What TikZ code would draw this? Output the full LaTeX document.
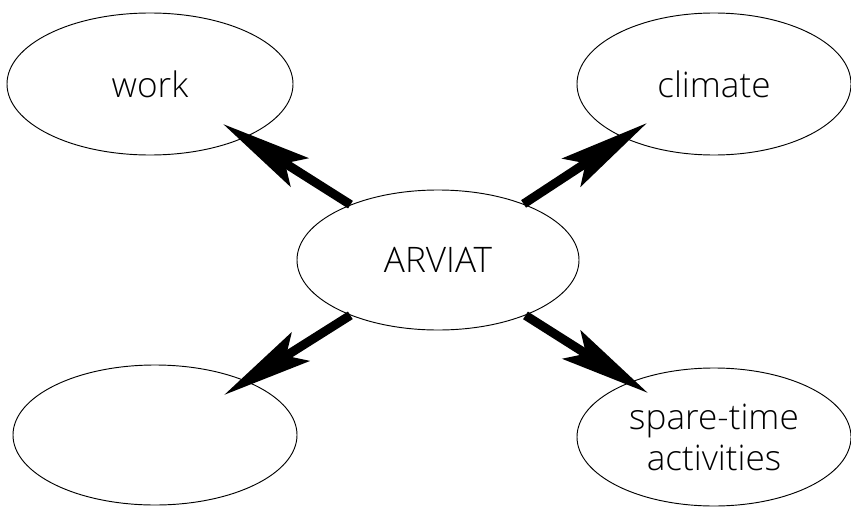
\documentclass[tikz,border=0pt]{standalone}
\usepackage{fontspec}
\setmainfont{Open Sans}[UprightFont=* Light]
\usetikzlibrary{shapes.geometric,arrows.meta}
\begin{document}
\begin{tikzpicture}[x=0.03cm,y=-0.03cm,
    bubble/.style={draw,ellipse,line width=0.8pt,inner sep=0pt,align=center,
                   font=\fontsize{30}{35}\selectfont},
    bigarrow/.style={line width=0.27cm,-{Stealth[length=2.7cm,width=1.0cm,inset=0.5cm]}}]
\useasboundingbox (0,0) rectangle (851,506);
\node[bubble,minimum width=8.58cm,minimum height=4.26cm] (work) at (150,84) {work};
\node[bubble,minimum width=8.22cm,minimum height=4.26cm] (climate) at (714,84) {climate};
\node[bubble,minimum width=8.46cm,minimum height=4.2cm] (arviat) at (438,260) {ARVIAT};
\node[bubble,minimum width=8.52cm,minimum height=4.2cm] (blank) at (155,435) {};
\node[bubble,minimum width=8.22cm,minimum height=4.14cm] (spare) at (714,437) {spare-time\\activities};
% arrow tips reach into the outer ellipses
\coordinate (worktip) at (223,124);
\coordinate (climatetip) at (647,123);
\coordinate (blanktip) at (224,395);
\coordinate (sparetip) at (648,393);
\foreach \t in {worktip,climatetip,blanktip,sparetip}
  \draw[bigarrow] (arviat) -- (\t);
\end{tikzpicture}
\end{document}
